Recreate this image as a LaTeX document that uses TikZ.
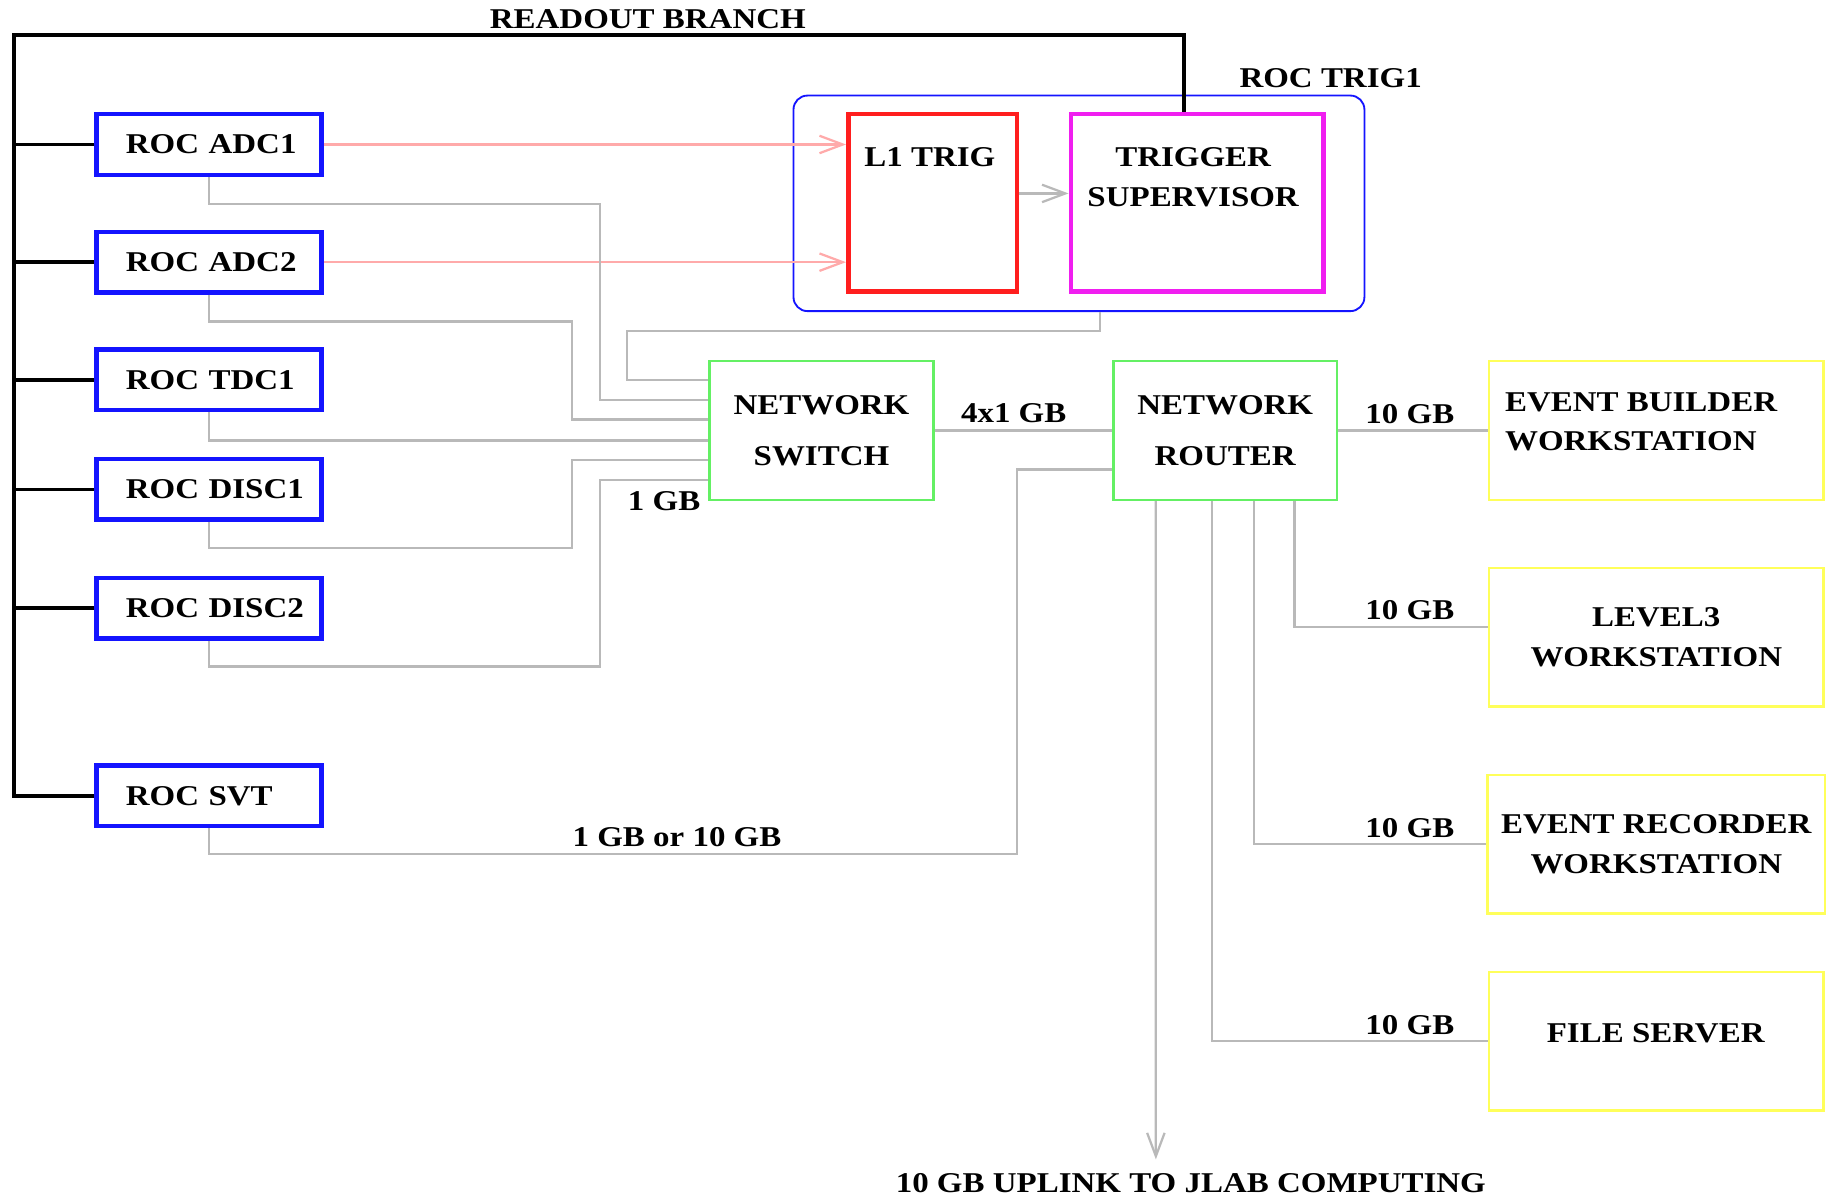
\documentclass[tikz,border=0pt]{standalone}
\usepackage{fontspec}
\setmainfont{Liberation Serif}[FakeStretch=1.15]
\usetikzlibrary{arrows.meta,calc}
\definecolor{RocBlue}{RGB}{20,20,255}
\definecolor{TrigRed}{RGB}{255,30,30}
\definecolor{SupMagenta}{RGB}{240,30,240}
\definecolor{NetGreen}{RGB}{100,240,100}
\definecolor{WsYellow}{RGB}{255,255,90}
\definecolor{LinkGray}{RGB}{185,185,185}
\definecolor{TrigPink}{RGB}{255,170,170}

\begin{document}
\begin{tikzpicture}[
        x=0.1mm,y=-0.1mm,
        font=\fontsize{7}{9.6}\selectfont\bfseries,
        roc/.style={draw=RocBlue,line width=1.1pt,minimum width=19.3mm,minimum height=5.2mm,text width=14.3mm,align=left,inner sep=0pt},
        netbox/.style={draw=NetGreen,line width=0.6pt,minimum width=19.2mm,minimum height=11.9mm,align=center},
        ws/.style={draw=WsYellow,line width=0.6pt,minimum width=28.7mm,minimum height=11.9mm,align=center},
        lbl/.style={inner sep=0pt},
        bus/.style={draw=black,line width=0.9pt},
        net/.style={draw=LinkGray,line width=0.55pt},
        arr/.style={-{Straight Barb[length=2mm,width=1.5mm]}},
        trigarr/.style={draw=TrigPink,line width=0.55pt,arr}
      ]
        \useasboundingbox (0,0) rectangle (1568,1026);
        % readout controllers
        \node[roc] (adc1) at (179.5,124) {ROC~ADC1};
        \node[roc] (adc2) at (179.5,225) {ROC~ADC2};
        \node[roc] (tdc1) at (179.5,326) {ROC~TDC1};
        \node[roc] (disc1) at (179.5,420) {ROC~DISC1};
        \node[roc] (disc2) at (179.5,522) {ROC~DISC2};
        \node[roc] (svt) at (179.5,683) {ROC~SVT};
        % trigger crate
        \node[draw=RocBlue,line width=0.45pt,rounded corners=1.2mm,minimum width=49mm,minimum height=18.5mm] (trig) at (926,174.5) {};
        \node[draw=TrigRed,line width=1.1pt,minimum width=14.5mm,minimum height=15.2mm] (l1) at (800.5,174) {};
        \node[draw=SupMagenta,line width=1.1pt,minimum width=21.7mm,minimum height=15.2mm] (ts) at (1027.5,174) {};
        \node[lbl] (l1txt) at (798,135) {L1 TRIG};
        \node[lbl,align=center] (tstxt) at (1024,152) {TRIGGER\\SUPERVISOR};
        \node[lbl] (trigtxt) at (1142,67) {ROC TRIG1};
        \node[lbl] (rbtxt) at (556,16) {READOUT BRANCH};
        % network
        \node[netbox] (sw) at (705,369.5) {NETWORK\\[2.9pt]SWITCH};
        \node[netbox] (rt) at (1051.5,369.5) {NETWORK\\[2.9pt]ROUTER};
        % workstations
        \node[ws] (eb) at (1421.5,369.5) {};
        \node[lbl,align=left,anchor=west] (ebtxt) at (1291,362) {EVENT BUILDER\\WORKSTATION};
        \node[ws] (l3) at (1421.5,547) {LEVEL3\\WORKSTATION};
        \node[ws] (er) at (1421.5,724.5) {EVENT RECORDER\\WORKSTATION};
        \node[ws] (fs) at (1421.5,893.5) {};
        \node[lbl] (fstxt) at (1421,887) {FILE SERVER};
        % link labels
        \node[lbl] (l4x1) at (870,355) {4x1 GB};
        \node[lbl] (lsw) at (570,430) {1 GB};
        \node[lbl] (lsvt) at (581,718) {1 GB or 10 GB};
        \node[lbl] (leb) at (1210,355) {10 GB};
        \node[lbl] (ll3) at (1210,524) {10 GB};
        \node[lbl] (ler) at (1210,711) {10 GB};
        \node[lbl] (lfs) at (1210,880) {10 GB};
        \node[lbl] (uplink) at (1022,1015) {10 GB UPLINK TO JLAB COMPUTING};
        % readout branch
        \coordinate (rbtop) at (12,30);
        \draw[bus] (svt.west) -| (rbtop) -| ([xshift=-1.15mm]ts.north);
        \foreach \r in {adc1,adc2,tdc1,disc1,disc2}
          \draw[bus] (\r.west) -- (\r.west -| rbtop);
        % trigger inputs
        \draw[trigarr] (adc1.east) -- (adc1.east -| l1.west);
        \draw[trigarr] (adc2.east) -- (adc2.east -| l1.west);
        \draw[net,arr] ([yshift=0.8mm]l1.east) -- ([yshift=0.8mm]ts.west);
        % switch inputs
        \coordinate (trigbend) at (538,284);
        \coordinate (adc1bend) at (515,175);
        \coordinate (adc2bend) at (491,276);
        \coordinate (disc1bend) at (491,470);
        \coordinate (disc2bend) at (515,572);
        \coordinate (svtbend) at (873,733);
        \draw[net] ([xshift=1.8mm]trig.south) |- (trigbend) |- ([yshift=4.35mm]sw.west);
        \draw[net] (adc1.south) |- (adc1bend) |- ([yshift=2.65mm]sw.west);
        \draw[net] (adc2.south) |- (adc2bend) |- ([yshift=0.95mm]sw.west);
        \draw[net] (tdc1.south) |- ([yshift=-0.85mm]sw.west);
        \draw[net] (disc1.south) |- (disc1bend) |- ([yshift=-2.55mm]sw.west);
        \draw[net] (disc2.south) |- (disc2bend) |- ([yshift=-4.25mm]sw.west);
        \draw[net] (svt.south) |- (svtbend) |- ([yshift=-3.35mm]rt.west);
        % router outputs
        \coordinate (uplinkend) at (992,995);
        \draw[net] (sw) -- (rt);
        \draw[net] (rt) -- (eb);
        \draw[net] ([xshift=5.95mm]rt.south) |- ([yshift=0.9mm]l3.west);
        \draw[net] ([xshift=2.45mm]rt.south) |- (er.west);
        \draw[net] ([xshift=-1.15mm]rt.south) |- (fs.west);
        \draw[net,arr] ([xshift=-5.95mm]rt.south) -- (uplinkend);
      \end{tikzpicture}
\end{document}
